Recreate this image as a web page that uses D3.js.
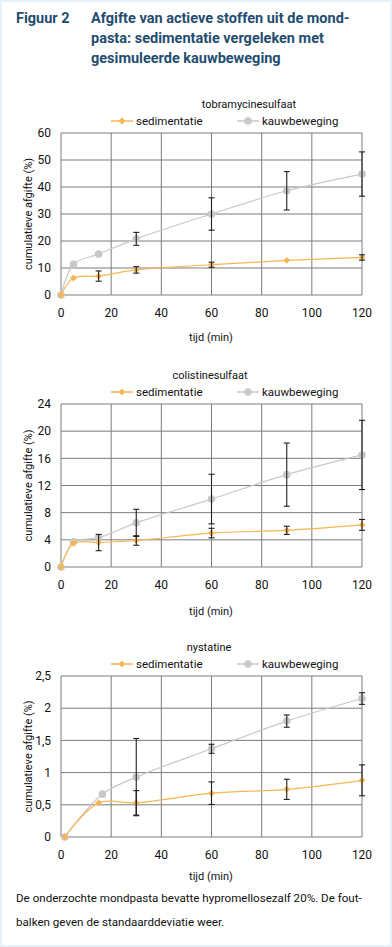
<!DOCTYPE html>
<html>
<head>
<meta charset="utf-8">
<script src="https://cdn.jsdelivr.net/npm/d3@7"></script>
<style>
  body { margin: 0; background: #fff; }
  svg { display: block; font-family: Roboto, "Noto Sans", sans-serif; }
</style>
</head>
<body>
<div id="chart"></div>
<script>
// ---- data ----
const minutes = [0, 5, 15, 30, 60, 90, 120];

// tobramycinesulfaat
const tobraSed = [0, 6.3, 7.0, 9.3, 11.2, 12.8, 13.9];
const tobraSedSd = [null, null, 1.9, 1.2, 0.95, null, 1.0];
const tobraKauw = [0, 11.4, 15.2, 20.8, 30.0, 38.6, 44.8];
const tobraKauwSd = [null, null, null, 2.4, 6.0, 7.1, 8.2];

// colistinesulfaat
const colSed = [0, 3.5, 3.6, 3.9, 5.0, 5.4, 6.2];
const colSedSd = [null, null, 1.2, 0.7, 0.7, 0.6, 0.8];
const colKauw = [0, 3.7, 4.3, 6.5, 10.0, 13.6, 16.5];
const colKauwSd = [null, null, null, 2.0, 3.65, 4.65, 5.1];

// nystatine
const nysSedMin = [1.5, 15, 30, 60, 90, 120];
const nysSed = [0, 0.53, 0.53, 0.68, 0.74, 0.88];
const nysSedSd = [null, null, 0.19, 0.175, 0.157, 0.24];
const nysKauwMin = [1.5, 16.5, 30, 60, 90, 120];
const nysKauw = [0, 0.665, 0.93, 1.37, 1.80, 2.15];
const nysKauwSd = [null, null, 0.6, 0.07, 0.095, 0.09];

const xTicks = [0, 20, 40, 60, 80, 100, 120];
const seriesNames = ["sedimentatie", "kauwbeweging"];

const W = 392, H = 947;
const orange = "#f6b653", grey = "#c8c8c8";
const fmt = d => String(d).replace(".", ",");

const svg = d3.select("#chart").append("svg")
    .attr("width", W)
    .attr("height", H);

// light frame round the figure
svg.append("rect")
    .attr("x", 1).attr("y", 1)
    .attr("width", W - 2).attr("height", H - 2)
    .attr("fill", "#fff")
    .attr("stroke", "#e8f0f8")
    .attr("stroke-width", 2);

// heading
const head = svg.append("g").attr("fill", "#1f4d70").style("font-weight", "bold").style("font-size", "14.5px");
head.append("text").attr("x", 16).attr("y", 23).text("Figuur 2");
["Afgifte van actieve stoffen uit de mond-",
 "pasta: sedimentatie vergeleken met",
 "gesimuleerde kauwbeweging"].forEach((t, i) => {
    head.append("text").attr("x", 91).attr("y", 23 + i * 20).text(t);
});

function toPoints(xs, ys, sds) {
    return xs.map((x, i) => ({ x: x, y: ys[i], sd: sds[i] }));
}

function drawChart(cfg) {
    const left = 61, right = 362;
    const x = d3.scaleLinear().domain([0, 120]).range([left, right]);
    const y = d3.scaleLinear().domain([0, cfg.yMax]).range([cfg.bottom, cfg.top]);
    const g = svg.append("g");

    // grid
    g.selectAll(".hgrid").data(cfg.yTicks).enter().append("line")
        .attr("x1", left).attr("x2", right)
        .attr("y1", d => y(d)).attr("y2", d => y(d))
        .attr("stroke", "#7c7c7c").attr("stroke-width", 1);
    g.selectAll(".vgrid").data(xTicks).enter().append("line")
        .attr("x1", d => x(d)).attr("x2", d => x(d))
        .attr("y1", cfg.top).attr("y2", cfg.bottom)
        .attr("stroke", "#7c7c7c").attr("stroke-width", 1);

    // tick labels
    g.selectAll(".ylab").data(cfg.yTicks).enter().append("text")
        .attr("x", 51).attr("y", d => y(d)).attr("dy", "0.35em")
        .attr("text-anchor", "end").style("font-size", "12px").attr("fill", "#111")
        .text(fmt);
    g.selectAll(".xlab").data(xTicks).enter().append("text")
        .attr("x", d => x(d)).attr("y", cfg.bottom + 18).attr("dy", "0.35em")
        .attr("text-anchor", "middle").style("font-size", "12px").attr("fill", "#111")
        .text(d => d);

    // axis titles
    g.append("text")
        .attr("x", 211).attr("y", cfg.bottom + cfg.xTitleGap).attr("dy", "0.35em")
        .attr("text-anchor", "middle").style("font-size", "11px").attr("fill", "#111")
        .text("tijd (min)");
    g.append("text")
        .attr("transform", `translate(28,${(cfg.top + cfg.bottom) / 2}) rotate(-90)`)
        .attr("dy", "0.35em")
        .attr("text-anchor", "middle").style("font-size", "11px").attr("fill", "#111")
        .text("cumulatieve afgifte (%)");

    // chart title
    g.append("text")
        .attr("x", cfg.titleX).attr("y", cfg.top - 29).attr("dy", "0.35em")
        .attr("text-anchor", "middle").style("font-size", "11px").attr("fill", "#111")
        .text(cfg.title);

    // legend
    const ly = cfg.top - 12;
    const leg = g.append("g");
    leg.append("line").attr("x1", 111).attr("x2", 133).attr("y1", ly).attr("y2", ly)
        .attr("stroke", orange).attr("stroke-width", 1.5);
    leg.append("path").attr("d", d3.symbol(d3.symbolDiamond2, 30)())
        .attr("transform", `translate(122,${ly})`).attr("fill", orange);
    leg.append("text").attr("x", 136).attr("y", ly).attr("dy", "0.35em")
        .style("font-size", "11.5px").attr("fill", "#111").text(seriesNames[0]);
    leg.append("line").attr("x1", 237).attr("x2", 259).attr("y1", ly).attr("y2", ly)
        .attr("stroke", grey).attr("stroke-width", 1.5);
    leg.append("circle").attr("cx", 248).attr("cy", ly).attr("r", 3.8).attr("fill", grey);
    leg.append("text").attr("x", 262).attr("y", ly).attr("dy", "0.35em")
        .style("font-size", "11.5px").attr("fill", "#111").text(seriesNames[1]);

    const line = d3.line()
        .x(d => x(d.x)).y(d => y(d.y))
        .curve(d3.curveCatmullRom.alpha(0.5));

    // kauwbeweging (drawn first, below)
    g.append("path").datum(cfg.kauw)
        .attr("d", line).attr("fill", "none")
        .attr("stroke", grey).attr("stroke-width", 1.2);
    g.selectAll(".kdot").data(cfg.kauw).enter().append("circle")
        .attr("cx", d => x(d.x)).attr("cy", d => y(d.y)).attr("r", 3.8)
        .attr("fill", grey);

    // sedimentatie
    g.append("path").datum(cfg.sed)
        .attr("d", line).attr("fill", "none")
        .attr("stroke", orange).attr("stroke-width", 1.2);
    g.selectAll(".sdot").data(cfg.sed).enter().append("path")
        .attr("d", d3.symbol(d3.symbolDiamond2, 30)())
        .attr("transform", d => `translate(${x(d.x)},${y(d.y)})`)
        .attr("fill", orange);

    // error bars
    const errs = cfg.kauw.concat(cfg.sed).filter(d => d.sd != null);
    const eb = g.append("g").attr("stroke", "#1e1e1e").attr("stroke-width", 1.1);
    errs.forEach(d => {
        const cx = x(d.x), y1 = y(d.y - d.sd), y2 = y(d.y + d.sd);
        eb.append("line").attr("x1", cx).attr("x2", cx).attr("y1", y1).attr("y2", y2);
        eb.append("line").attr("x1", cx - 3).attr("x2", cx + 3).attr("y1", y1).attr("y2", y1);
        eb.append("line").attr("x1", cx - 3).attr("x2", cx + 3).attr("y1", y2).attr("y2", y2);
    });
}

drawChart({
    title: "tobramycinesulfaat", titleX: 249,
    top: 133, bottom: 295, yMax: 60, yTicks: [0, 10, 20, 30, 40, 50, 60], xTitleGap: 42,
    sed: toPoints(minutes, tobraSed, tobraSedSd),
    kauw: toPoints(minutes, tobraKauw, tobraKauwSd)
});

drawChart({
    title: "colistinesulfaat", titleX: 210,
    top: 404, bottom: 567, yMax: 24, yTicks: [0, 4, 8, 12, 16, 20, 24], xTitleGap: 44,
    sed: toPoints(minutes, colSed, colSedSd),
    kauw: toPoints(minutes, colKauw, colKauwSd)
});

drawChart({
    title: "nystatine", titleX: 209,
    top: 676, bottom: 837, yMax: 2.5, yTicks: [0, 0.5, 1, 1.5, 2, 2.5], xTitleGap: 39,
    sed: toPoints(nysSedMin, nysSed, nysSedSd),
    kauw: toPoints(nysKauwMin, nysKauw, nysKauwSd)
});

// caption
const cap = svg.append("g").style("font-size", "11.6px").attr("fill", "#111");
cap.append("text").attr("x", 16).attr("y", 902).text("De onderzochte mondpasta bevatte hypromellosezalf 20%. De fout-");
cap.append("text").attr("x", 16).attr("y", 926).text("balken geven de standaarddeviatie weer.");
</script>
</body>
</html>
